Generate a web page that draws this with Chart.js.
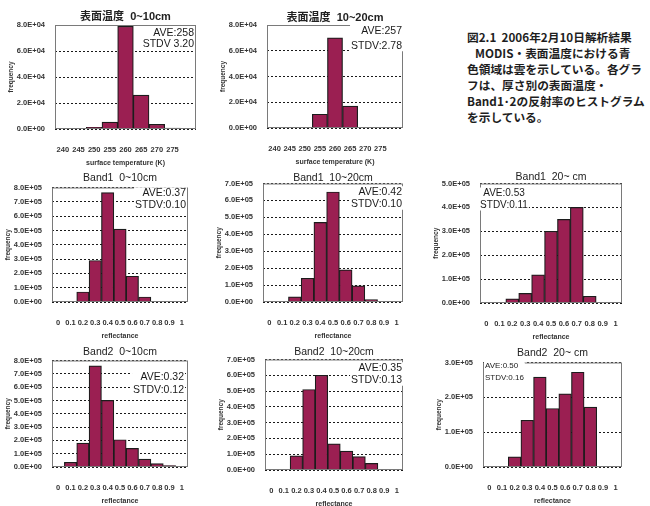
<!DOCTYPE html>
<html>
<head>
<meta charset="utf-8">
<script src="https://cdn.jsdelivr.net/npm/chart.js@4.4.0/dist/chart.umd.min.js"></script>
<style>
  body { margin: 0; background: #fff; width: 650px; height: 506px; position: relative; overflow: hidden; }
  canvas { position: absolute; }
  .caption {
    position: absolute; left: 467px; top: 29px;
    font-family: 'Noto Sans CJK JP', sans-serif; font-weight: bold;
    font-size: 11.7px; line-height: 16px; color: #1e1e1e; white-space: nowrap;
  }
  .caption .indent { padding-left: 8px; }
</style>
</head>
<body>
<div class="caption">
  <div>図2.1&nbsp; 2006年2月10日解析結果</div>
  <div class="indent">MODIS・表面温度における青</div>
  <div>色領域は雲を示している。各グラ</div>
  <div>フは、厚さ別の表面温度・</div>
  <div>Band1･2の反射率のヒストグラム</div>
  <div>を示している。</div>
</div>
<script>
// bin labels
const tempBins = ['240', '245', '250', '255', '260', '265', '270', '275', ''];
const reflBins = ['0', '0.1', '0.2', '0.3', '0.4', '0.5', '0.6', '0.7', '0.8', '0.9', '1'];

// pixel counts per bin, surface temperature (K)
const tempShallow = [0, 200, 1300, 5300, 79000, 26000, 3600, 800, 0];
const tempMid     = [200, 0, 400, 10700, 70000, 17000, 400, 200, 0];

// pixel counts per bin, Band1 reflectance
const band1Shallow = [0, 2000, 70000, 290000, 765000, 510000, 180000, 35000, 5000, 2000, 0];
const band1Mid     = [0, 2000, 30000, 140000, 470000, 650000, 190000, 95000, 15000, 2000, 0];
const band1Deep    = [0, 2000, 17000, 40000, 118000, 300000, 350000, 400000, 28000, 2000, 0];

// pixel counts per bin, Band2 reflectance
const band2Shallow = [0, 35000, 180000, 760000, 500000, 205000, 140000, 60000, 25000, 10000, 0];
const band2Mid     = [0, 2000, 90000, 510000, 600000, 165000, 120000, 85000, 42000, 2000, 0];
const band2Deep    = [0, 2000, 29000, 134000, 258000, 168000, 210000, 272000, 172000, 2000, 0];

// axis ranges
const yMaxes  = [80000, 80000, 800000, 700000, 500000, 800000, 700000, 300000];
const ySteps  = [20000, 20000, 100000, 100000, 100000, 100000, 100000, 100000];

// summary stats per panel
const statLines = [
  ['AVE:258', 'STDV 3.20'],
  ['AVE:257', 'STDV:2.78'],
  ['AVE:0.37', 'STDV:0.10'],
  ['AVE:0.42', 'STDV:0.10'],
  ['AVE:0.53', 'STDV:0.11'],
  ['AVE:0.32', 'STDV:0.12'],
  ['AVE:0.35', 'STDV:0.13'],
  ['AVE:0.50', 'STDV:0.16'],
];

const titles = [
  '表面温度  0~10cm', '表面温度  10~20cm',
  'Band1  0~10cm', 'Band1  10~20cm', 'Band1  20~ cm',
  'Band2  0~10cm', 'Band2  10~20cm', 'Band2  20~ cm',
];

const panels = [
  { labels: tempBins, values: tempShallow,  xTitle: 'surface temperature (K)', plot: [55, 24, 141, 105],  gap: 8, stat: { align: 'right', x: 139, y: [8, 19],  size: 10.5 } },
  { labels: tempBins, values: tempMid,      xTitle: 'surface temperature (K)', plot: [267, 24, 136, 104], gap: 7, stat: { align: 'right', x: 135, y: [6, 21],  size: 10.5 } },
  { labels: reflBins, values: band1Shallow, xTitle: 'reflectance', plot: [52, 187, 136, 115],  gap: 9, stat: { align: 'right', x: 134, y: [6, 18],  size: 10.5 } },
  { labels: reflBins, values: band1Mid,     xTitle: 'reflectance', plot: [263, 183, 140, 119], gap: 5, stat: { align: 'right', x: 139, y: [9, 21],  size: 10.5 } },
  { labels: reflBins, values: band1Deep,    xTitle: 'reflectance', plot: [480, 183, 142, 120], gap: 6, stat: { align: 'center', x: 24, y: [10, 22], size: 10 } },
  { labels: reflBins, values: band2Shallow, xTitle: 'reflectance', plot: [52, 360, 136, 107],  gap: 8, stat: { align: 'right', x: 132, y: [17, 30], size: 10.5 } },
  { labels: reflBins, values: band2Mid,     xTitle: 'reflectance', plot: [265, 359, 138, 111], gap: 7, stat: { align: 'right', x: 137, y: [9, 21],  size: 10.5 } },
  { labels: reflBins, values: band2Deep,    xTitle: 'reflectance', plot: [483, 362, 139, 105], gap: 9, stat: { align: 'left',  x: 2,  y: [3, 15],  size: 8 } },
];

const AXIS_W = 56, TOP_H = 24, AXIS_H = 40, RIGHT_PAD = 14;

// Excel-style scientific tick labels, e.g. 8.0E+04
function sci(v) {
  const [m, e] = Number(v).toExponential(1).split('e');
  return m + 'E' + e[0] + e.slice(1).padStart(2, '0');
}

// frame around the plot + AVE/STDV text box
const panelDeco = {
  id: 'panelDeco',
  afterDatasetsDraw(chart, args, opts) {
    const { ctx, chartArea: a } = chart;
    ctx.save();
    ctx.strokeStyle = '#7a7a7a';
    ctx.lineWidth = 1;
    ctx.strokeRect(a.left + 0.5, a.top + 0.5, a.width - 1, a.height - 1);

    const s = opts.stat;
    ctx.font = s.size + 'px Arial, "Liberation Sans", sans-serif';
    ctx.textBaseline = 'middle';
    ctx.textAlign = s.align;
    const widths = opts.lines.map(t => ctx.measureText(t).width);
    const w = Math.max(...widths);
    const x = a.left + s.x;
    let bx = s.align === 'right' ? x - w : s.align === 'center' ? x - w / 2 : x;
    ctx.fillStyle = '#fff';
    ctx.fillRect(bx - 1, a.top + s.y[0] - s.size / 2 - 1, w + 2, s.y[1] - s.y[0] + s.size + 1);
    ctx.fillStyle = '#1a1a1a';
    opts.lines.forEach((t, i) => ctx.fillText(t, x, a.top + s.y[i]));
    ctx.restore();
  }
};

const tickFont = { family: '"Liberation Sans", Arial, sans-serif', size: 7.5, weight: 'bold' };

panels.forEach((p, i) => {
  const [L, T, W, H] = p.plot;
  const c = document.createElement('canvas');
  c.width = W + AXIS_W + RIGHT_PAD;
  c.height = H + TOP_H + AXIS_H;
  c.style.left = (L - AXIS_W) + 'px';
  c.style.top = (T - TOP_H) + 'px';
  document.body.appendChild(c);

  const isJp = i < 2;
  new Chart(c, {
    type: 'bar',
    data: {
      labels: p.labels,
      datasets: [{
        data: p.values,
        backgroundColor: '#9b1f52',
        borderColor: '#1c1c1c',
        borderWidth: 1.2,
        categoryPercentage: 1,
        barPercentage: 1,
      }]
    },
    options: {
      responsive: false,
      animation: false,
      layout: { padding: { right: RIGHT_PAD } },
      plugins: {
        legend: { display: false },
        tooltip: { enabled: false },
        title: {
          display: true,
          fullSize: false,
          text: titles[i],
          color: '#222',
          font: {
            family: 'Arial, "Liberation Sans", "Noto Sans CJK JP", sans-serif',
            size: isJp ? 11 : 10.5,
            weight: isJp ? 'bold' : 'normal',
            lineHeight: 1
          },
          padding: { top: 19 - p.gap, bottom: p.gap - 5 }
        },
        panelDeco: { stat: p.stat, lines: statLines[i] }
      },
      scales: {
        x: {
          grid: { display: false },
          border: { display: false },
          ticks: { font: tickFont, color: '#333', padding: 8, autoSkip: false, maxRotation: 0 },
          title: { display: true, text: p.xTitle, font: { ...tickFont, size: 7 }, color: '#333', padding: { top: 0, bottom: 2 } },
          afterFit: s => { s.height = AXIS_H; }
        },
        y: {
          min: 0,
          max: yMaxes[i],
          ticks: { stepSize: ySteps[i], font: tickFont, color: '#333', padding: 10, callback: sci },
          grid: { color: '#1a1a1a', lineWidth: 1, drawTicks: false },
          border: { display: false, dash: [2, 2] },
          title: { display: true, text: 'frequency', font: { ...tickFont, size: 6.5 }, color: '#333', padding: { top: 8, bottom: 0 } },
          afterFit: s => { s.width = AXIS_W; }
        }
      }
    },
    plugins: [panelDeco]
  });
});
</script>
</body>
</html>
